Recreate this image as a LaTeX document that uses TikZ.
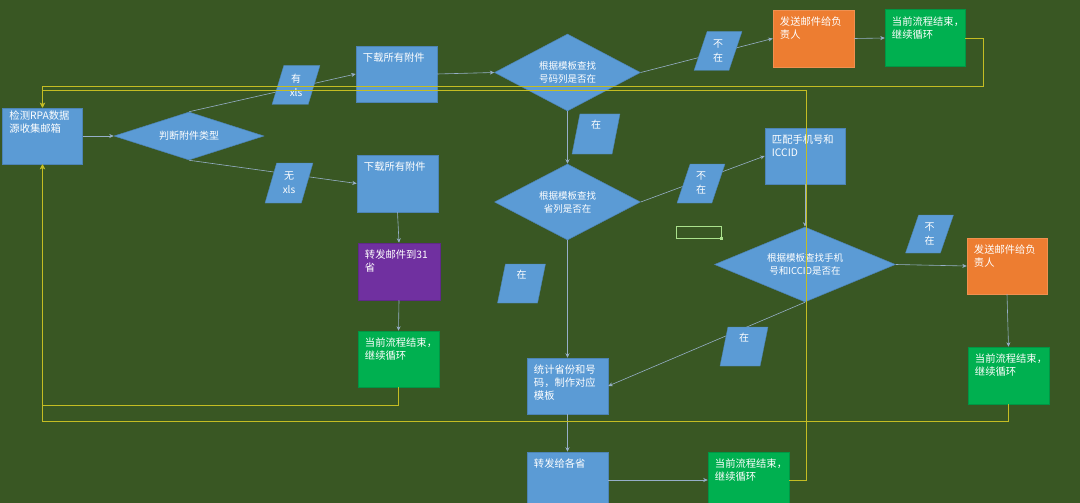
\documentclass[tikz,border=0pt]{standalone}
\usepackage{fontspec}
\newfontfamily\cjk{Noto Sans CJK SC}
\usetikzlibrary{shapes.geometric,arrows.meta}
\definecolor{bg}{RGB}{57,87,35}
\definecolor{cblue}{RGB}{91,155,213}
\definecolor{corange}{RGB}{237,125,49}
\definecolor{cgreen}{RGB}{0,176,80}
\definecolor{cpurple}{RGB}{112,48,160}
\definecolor{lc}{RGB}{150,175,200}
\definecolor{yc}{RGB}{196,189,35}
\definecolor{selc}{RGB}{170,225,140}
\tikzset{
  boxbase/.style={rectangle, minimum width=80pt, minimum height=56pt, inner sep=0pt, line width=0.5pt},
  bluebox/.style={boxbase, fill=cblue, draw=cblue!85!black},
  orangebox/.style={boxbase, fill=corange, draw=corange!85!white},
  greenbox/.style={boxbase, fill=cgreen, draw=cgreen!85!black},
  purplebox/.style={boxbase, fill=cpurple, draw=cpurple!85!black},
  txt/.style={label={[anchor=north west, align=left, inner sep=0pt, font=\cjk\fontsize{10.3}{13}\selectfont, text=white, xshift=7pt, yshift=-7pt]north west:#1}},
  txthigh/.style={label={[anchor=north west, align=left, inner sep=0pt, font=\cjk\fontsize{10.3}{13}\selectfont, text=white, xshift=7pt, yshift=-3pt]north west:#1}},
  dia/.style={diamond, fill=cblue, draw=cblue!85!black, line width=0.5pt, inner sep=0pt},
  dtxt/.style={label={[align=center, inner sep=0pt, font=\cjk\fontsize{9.5}{13}\selectfont, text=white]center:#1}},
  para/.style={trapezium, trapezium left angle=75, trapezium right angle=105, trapezium stretches=true, minimum width=48pt, minimum height=39pt, inner sep=0pt, fill=cblue, draw=cblue!85!black, line width=0.4pt, text=white, font=\cjk\fontsize{10}{14}\selectfont, align=center},
  ptop/.style={label={[inner sep=0pt, font=\cjk\fontsize{10}{13}\selectfont, text=white, yshift=9pt]center:#1}},
  conn/.style={draw=lc, line width=0.6pt, -{Stealth[length=4.5pt,width=4pt]}},
  yl/.style={draw=yc, line width=0.8pt, -{Stealth[length=5pt,width=5pt]}}
}
\begin{document}
\begin{tikzpicture}[x=1pt,y=-1pt]
\useasboundingbox (0,0) rectangle (1080,503);
\clip (0,0) rectangle (1080,503);
\fill[bg] (0,0) rectangle (1080,503);

% main nodes
\node[bluebox, txthigh={检测RPA数据\\源收集邮箱}] (det) at (42.5,136) {};
\node[dia, minimum width=150pt, minimum height=48pt, dtxt={\fontsize{10}{13}\selectfont 判断附件类型}] (d1) at (189,136) {};
\node[bluebox, minimum width=81pt, txt={下载所有附件}] (dl1) at (396.5,74) {};
\node[bluebox, minimum width=81pt, minimum height=57pt, txt={下载所有附件}] (dl2) at (397.5,183.5) {};
\node[dia, minimum width=146pt, minimum height=77pt, dtxt={根据模板查找\\号码列是否在}] (d2) at (567.5,72.5) {};
\node[orangebox, minimum width=81pt, minimum height=57pt, txt={发送邮件给负\\责人}] (otop) at (813.5,38.5) {};
\node[greenbox, minimum height=57pt, txt={当前流程结束，\\继续循环}] (gtop) at (925,38) {};
\node[dia, minimum width=146pt, minimum height=76pt, dtxt={根据模板查找\\省列是否在}] (d3) at (567.5,202) {};
\node[bluebox, txt={匹配手机号和\\ICCID}] (match) at (805,156) {};
\node[dia, minimum width=181pt, minimum height=75pt, dtxt={根据模板查找手机\\号和ICCID是否在}] (d4) at (805,264.5) {};
\node[orangebox, txt={发送邮件给负\\责人}] (oright) at (1007,266) {};
\node[greenbox, minimum width=81pt, minimum height=57pt, txt={当前流程结束，\\继续循环}] (gright) at (1008.5,375.5) {};
\node[purplebox, minimum width=82pt, minimum height=57pt, txt={转发邮件到31\\省}] (purp) at (399,271.5) {};
\node[greenbox, minimum width=81pt, txt={当前流程结束，\\继续循环}] (gleft) at (398.5,359) {};
\node[bluebox, minimum width=81pt, txt={统计省份和号\\码，制作对应\\模板}] (stat) at (567.5,386) {};
\node[bluebox, minimum width=81pt, txt={转发给各省}] (fwd) at (567.5,480) {};
\node[greenbox, minimum width=81pt, txt={当前流程结束，\\继续循环}] (gbot) at (748.5,480) {};

% connectors
\draw[conn] (det.east) -- (d1.west);
\draw[conn] (d1.north) -- (dl1.west);
\draw[conn] (d1.south) -- (dl2.west);
\draw[conn] (dl1.east) -- (d2.west);
\draw[conn] (d2.east) -- (otop.west);
\draw[conn] (otop.east) -- (gtop.west);
\draw[conn] (d2.south) -- (d3.north);
\draw[conn] (d3.east) -- (match.west);
\draw[conn] (match.south) -- (d4.north);
\draw[conn] (d3.south) -- (stat.north);
\draw[conn] (d4.south) -- (stat.east);
\draw[conn] (d4.east) -- (oright.west);
\draw[conn] (oright.south) -- (gright.north);
\draw[conn] (dl2.south) -- (purp.north);
\draw[conn] (purp.south) -- (gleft.north);
\draw[conn] (stat.south) -- (fwd.north);
\draw[conn] (fwd.east) -- (gbot.west);

% labels (parallelograms)
\node[para] (pyou) at (296,85) {有\\xls};
\node[para, minimum height=40pt] (pwu) at (289,183) {无\\xls};
\node[para, minimum height=40pt, ptop={在}] (pz1) at (596,134) {\phantom{在}};
\node[para] (pb1) at (718,51) {不\\在};
\node[para] (pb2) at (701,183.5) {不\\在};
\node[para, minimum height=38pt] (pb3) at (929.5,234) {不\\在};
\node[para, ptop={在}] (pz3) at (744,346.5) {\phantom{在}};
\node[para, ptop={在}] (pz2) at (521.5,283.5) {\phantom{在}};

% loop-back lines
\coordinate (la) at (983,86);
\coordinate (lb) at (806,90);
\coordinate (lc1) at (0,405);
\coordinate (ld) at (0,421);
\draw[yl] (gtop.east) -| (la) -| (det.north);
\draw[yl] (gbot.east) -| (lb) -| (det.north);
\draw[yl] (gleft.south) |- (det.south |- lc1) -- (det.south);
\draw[yl] (gright.south) |- (det.south |- ld) -- (det.south);

% selected cell
\node[draw=selc, line width=0.9pt, minimum width=45pt, minimum height=12pt, inner sep=0pt] (sel) at (698.5,232) {};
\node[fill=selc, minimum size=2.5pt, inner sep=0pt] (selh) at (sel.south east) {};
\end{tikzpicture}
\end{document}
